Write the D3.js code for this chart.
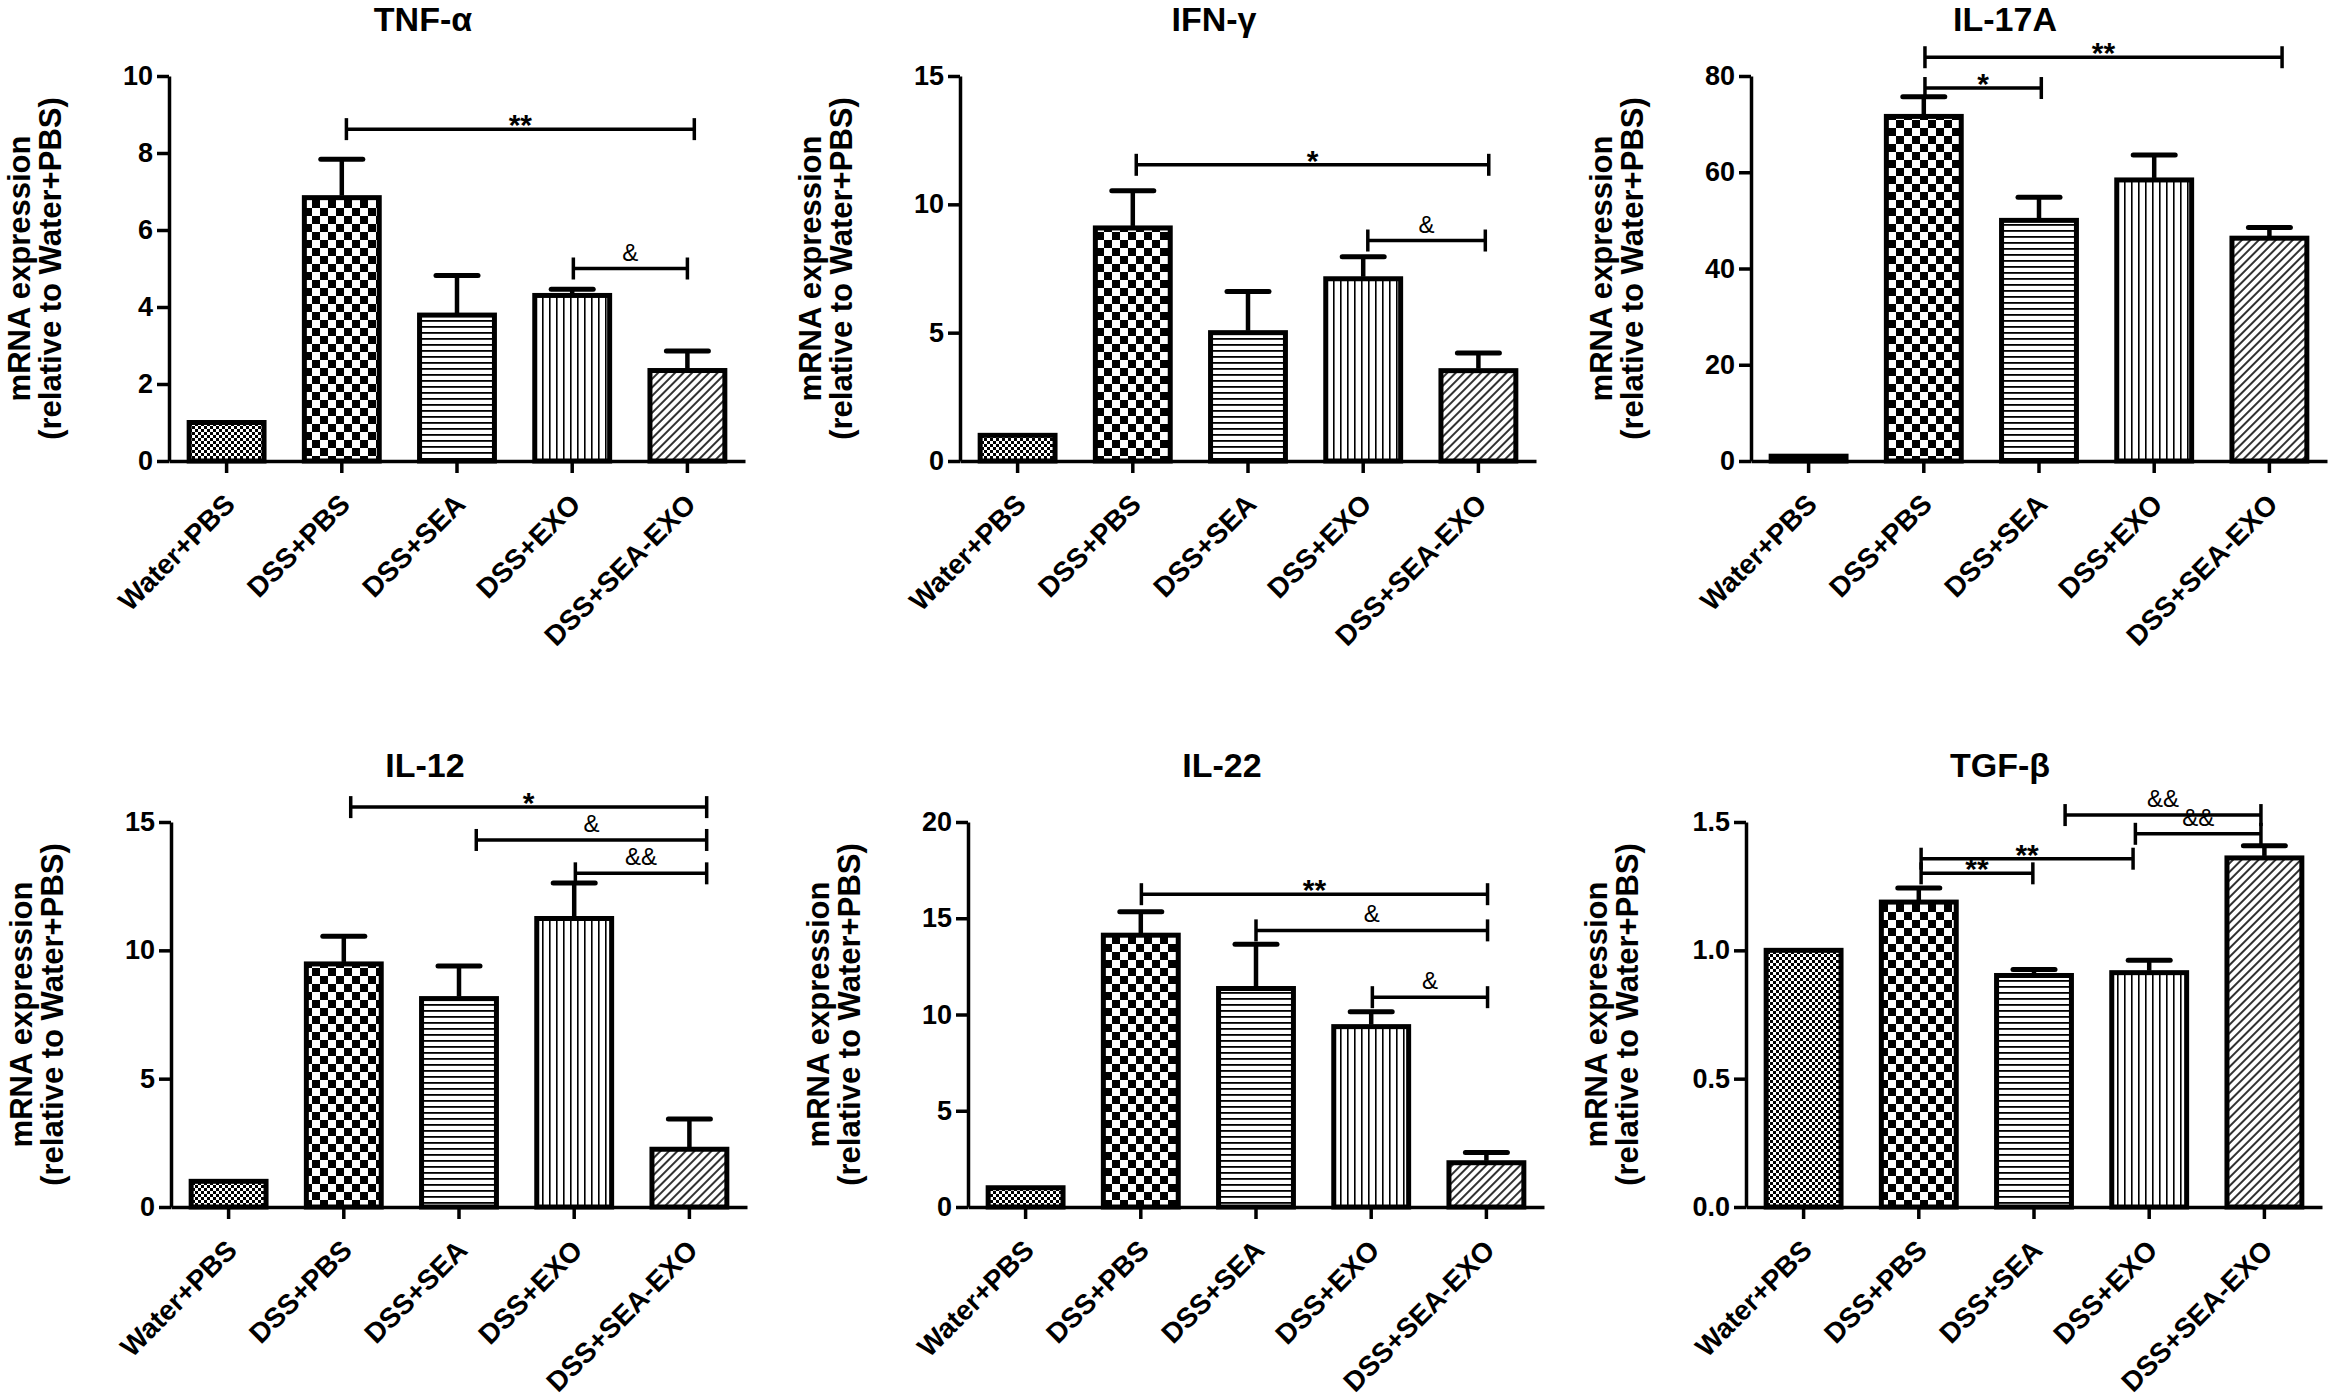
<!DOCTYPE html>
<html><head><meta charset="utf-8">
<script src="https://cdn.jsdelivr.net/npm/d3@7"></script>
<style>
body{margin:0;background:#fff}
svg{display:block}
text{font-family:"Liberation Sans",Arial,sans-serif;fill:#000}
</style>
</head><body>
<svg id="chart" width="2333" height="1397"></svg>
<script>
// ---------- data ----------
const categories = ["Water+PBS", "DSS+PBS", "DSS+SEA", "DSS+EXO", "DSS+SEA-EXO"];
const panelTitles = ["TNF-α", "IFN-γ", "IL-17A", "IL-12", "IL-22", "TGF-β"];
const yLabelLines = ["mRNA expression", "(relative to Water+PBS)"];

const tnfMean = [1.0, 6.84, 3.79, 4.30, 2.35];
const tnfSem  = [0, 1.0, 1.03, 0.16, 0.51];
const tnfTicks = [0, 2, 4, 6, 8, 10];
const tnfBrackets = [[1.04, 4.06, 8.62, "**"], [3.01, 4.0, 5.0, "&"]];

const ifnMean = [1.0, 9.08, 5.0, 7.1, 3.52];
const ifnSem  = [0, 1.45, 1.6, 0.86, 0.69];
const ifnTicks = [0, 5, 10, 15];
const ifnBrackets = [[1.03, 4.09, 11.54, "*"], [3.04, 4.06, 8.59, "&"]];

const il17Mean = [1.0, 71.6, 50.0, 58.4, 46.3];
const il17Sem  = [0, 4.1, 4.8, 5.2, 2.2];
const il17Ticks = [0, 20, 40, 60, 80];
const il17Brackets = [[1.01, 4.11, 83.9, "**"], [1.01, 2.02, 77.5, "*"]];

const il12Mean = [1.0, 9.47, 8.12, 11.24, 2.25];
const il12Sem  = [0, 1.08, 1.27, 1.38, 1.18];
const il12Ticks = [0, 5, 10, 15];
const il12Brackets = [[1.06, 4.15, 15.58, "*"], [2.15, 4.15, 14.3, "&"], [3.01, 4.15, 13.0, "&&"]];

const il22Mean = [1.0, 14.12, 11.35, 9.37, 2.3];
const il22Sem  = [0, 1.22, 2.3, 0.77, 0.53];
const il22Ticks = [0, 5, 10, 15, 20];
const il22Brackets = [[1.005, 4.01, 16.25, "**"], [2.0, 4.01, 14.37, "&"], [3.01, 4.01, 10.9, "&"]];

const tgfMean = [1.0, 1.188, 0.902, 0.913, 1.36];
const tgfSem  = [0, 0.055, 0.023, 0.048, 0.047];
const tgfTicks = [0, 0.5, 1.0, 1.5];
const tgfBrackets = [[1.02, 1.99, 1.30, "**"], [1.02, 2.86, 1.357, "**"], [2.88, 3.97, 1.454, "&&"], [2.27, 3.97, 1.527, "&&"]];

const yMaxes = [10, 15, 80, 15, 20, 1.5];
const tickFormats = ["d", "d", "d", "d", "d", ".1f"];

// ---------- layout ----------
const svg = d3.select("#chart");
const defs = svg.append("defs");
const origins = [[169, 76], [960, 76], [1751, 76], [171, 822], [968, 822], [1746, 822]];
const plotW = 576, plotH = 385;

function pattern(id, w, h, tf) {
  const p = defs.append("pattern").attr("id", id).attr("patternUnits", "userSpaceOnUse")
    .attr("width", w).attr("height", h);
  if (tf) p.attr("patternTransform", tf);
  p.append("rect").attr("width", w).attr("height", h).attr("fill", "#fff");
  return p;
}
let p = pattern("pat0", 6, 6);
p.append("rect").attr("width", 3).attr("height", 3).attr("fill", "#000");
p.append("rect").attr("x", 3).attr("y", 3).attr("width", 3).attr("height", 3).attr("fill", "#000");
p = pattern("pat1", 16, 16);
p.append("rect").attr("width", 8).attr("height", 8).attr("fill", "#000");
p.append("rect").attr("x", 8).attr("y", 8).attr("width", 8).attr("height", 8).attr("fill", "#000");
p = pattern("pat2", 6, 6);
p.append("rect").attr("x", 0).attr("y", 2).attr("width", 6).attr("height", 1.8).attr("fill", "#000");
p = pattern("pat3", 7, 7);
p.append("rect").attr("x", 3).attr("y", 0).attr("width", 1.6).attr("height", 7).attr("fill", "#000");
p = pattern("pat4", 6, 6, "rotate(45)");
p.append("rect").attr("x", 2.2).attr("y", 0).attr("width", 1.6).attr("height", 6).attr("fill", "#000");

const allMeans = [tnfMean, ifnMean, il17Mean, il12Mean, il22Mean, tgfMean];
const allSems = [tnfSem, ifnSem, il17Sem, il12Sem, il22Sem, tgfSem];
const allTicks = [tnfTicks, ifnTicks, il17Ticks, il12Ticks, il22Ticks, tgfTicks];
const allBrackets = [tnfBrackets, ifnBrackets, il17Brackets, il12Brackets, il22Brackets, tgfBrackets];

panelTitles.forEach((title, k) => {
  const [x0, y0] = origins[k];
  const g = svg.append("g");
  const x = d3.scaleBand().domain(categories).range([x0, x0 + plotW]).paddingInner(0.35).paddingOuter(0.175);
  const y = d3.scaleLinear().domain([0, yMaxes[k]]).range([y0 + plotH, y0]);
  const cx = i => x(categories[0]) + x.bandwidth() / 2 + i * x.step();
  const means = allMeans[k], sems = allSems[k];

  // bars
  g.selectAll("rect.bar").data(categories).enter().append("rect")
    .attr("class", "bar")
    .attr("x", d => x(d)).attr("width", x.bandwidth())
    .attr("y", (d, i) => y(means[i]))
    .attr("height", (d, i) => y(0) - y(means[i]))
    .attr("fill", (d, i) => `url(#pat${i})`)
    .attr("stroke", "#000").attr("stroke-width", 5);

  // error bars
  categories.forEach((c, i) => {
    if (!sems[i]) return;
    const xc = x(c) + x.bandwidth() / 2;
    g.append("line").attr("x1", xc).attr("x2", xc).attr("y1", y(means[i]) - 2).attr("y2", y(means[i] + sems[i]))
      .attr("stroke", "#000").attr("stroke-width", 4.5);
    g.append("line").attr("x1", xc - 21).attr("x2", xc + 21).attr("y1", y(means[i] + sems[i])).attr("y2", y(means[i] + sems[i]))
      .attr("stroke", "#000").attr("stroke-width", 5).attr("stroke-linecap", "round");
  });

  // axes
  const fmt = d3.format(tickFormats[k]);
  const ya = g.append("g").attr("transform", `translate(${x0},0)`)
    .call(d3.axisLeft(y).tickValues(allTicks[k]).tickSize(12).tickSizeOuter(0).tickPadding(4).tickFormat(fmt));
  const xa = g.append("g").attr("transform", `translate(0,${y0 + plotH})`)
    .call(d3.axisBottom(x).tickSize(12).tickSizeOuter(0));
  [ya, xa].forEach(a => {
    a.select(".domain").attr("stroke", "#000").attr("stroke-width", 3.5);
    a.selectAll(".tick line").attr("stroke", "#000").attr("stroke-width", 3.5);
  });
  ya.selectAll(".tick text").attr("font-size", 27).attr("font-weight", "bold")
    .attr("font-family", "'Liberation Sans',Arial,sans-serif").attr("fill", "#000");
  xa.selectAll(".tick text")
    .attr("x", null).attr("y", null).attr("dy", null)
    .attr("transform", "translate(10,45) rotate(-45)")
    .attr("text-anchor", "end")
    .attr("font-size", 28).attr("font-weight", "bold")
    .attr("font-family", "'Liberation Sans',Arial,sans-serif").attr("fill", "#000");

  // significance brackets
  allBrackets[k].forEach(([a, b, v, lab]) => {
    const yy = y(v), xa1 = cx(a), xb1 = cx(b);
    g.append("line").attr("x1", xa1).attr("x2", xb1).attr("y1", yy).attr("y2", yy)
      .attr("stroke", "#000").attr("stroke-width", 3.5);
    [xa1, xb1].forEach(xx => g.append("line").attr("x1", xx).attr("x2", xx).attr("y1", yy - 11).attr("y2", yy + 11)
      .attr("stroke", "#000").attr("stroke-width", 3.5));
    const amp = lab.indexOf("&") >= 0;
    g.append("text").attr("x", (xa1 + xb1) / 2).attr("y", amp ? yy - 8 : yy + 6)
      .attr("text-anchor", "middle")
      .attr("font-size", amp ? 24 : 30).attr("font-weight", amp ? "normal" : "bold")
      .text(lab);
  });

  // title
  g.append("text").attr("x", x0 + 254).attr("y", y0 - 45).attr("text-anchor", "middle")
    .attr("font-size", 34).attr("font-weight", "bold").text(title);

  // y label
  const yc = y0 + plotH / 2;
  yLabelLines.forEach((line, j) => {
    const bx = x0 - 139 + j * 31;
    g.append("text").attr("transform", `translate(${bx},${yc}) rotate(-90)`)
      .attr("text-anchor", "middle").attr("font-size", 31).attr("font-weight", "bold").text(line);
  });
});
</script>
</body></html>
